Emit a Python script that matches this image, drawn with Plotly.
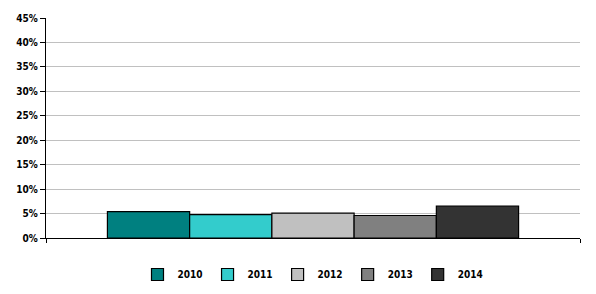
import plotly.graph_objects as go

years = ["2010", "2011", "2012", "2013", "2014"]
values = [0.054, 0.048, 0.051, 0.046, 0.065]
colors = ["#008080", "#33CCCC", "#C0C0C0", "#808080", "#333333"]
y_ticks = [0, 0.05, 0.10, 0.15, 0.20, 0.25, 0.30, 0.35, 0.40, 0.45]
y_labels = ["0%", "5%", "10%", "15%", "20%", "25%", "30%", "35%", "40%", "45%"]

fig = go.Figure()
for yr, v, c in zip(years, values, colors):
    fig.add_trace(go.Bar(x=[0], y=[v], name=yr, marker=dict(color=c, line=dict(color="black", width=1.2))))

FONT = "DejaVu Sans Condensed, Liberation Sans Narrow, Arial Narrow, sans-serif"
fig.update_layout(
    width=596, height=294,
    margin=dict(l=46, r=16, t=18, b=56, autoexpand=False),
    plot_bgcolor="white", paper_bgcolor="white",
    barmode="group", bargap=0.23, bargroupgap=0,
    font=dict(family=FONT, size=10, color="black"),
    showlegend=True,
    legend=dict(orientation="h", x=0.5, xanchor="center", y=-0.10, yanchor="top",
                font=dict(family=FONT, size=10, color="black", weight="bold"),
                itemwidth=30, tracegroupgap=0, bgcolor="rgba(0,0,0,0)"),
    xaxis=dict(range=[-0.5, 0.5], tickvals=[-0.5, 0.5], ticktext=["", ""], ticks="outside",
               ticklen=4, tickcolor="black", showline=True, linecolor="black", linewidth=1.2,
               showgrid=False, zeroline=False, fixedrange=True),
    yaxis=dict(range=[0, 0.45], tickvals=y_ticks, ticktext=y_labels, ticks="outside",
               ticklen=5, tickcolor="black", showline=True, linecolor="black", linewidth=1.2,
               showgrid=True, gridcolor="#C0C0C0", gridwidth=1, zeroline=False,
               tickfont=dict(family=FONT, size=10, color="black", weight="bold")),
)
fig.write_html("out.html")
